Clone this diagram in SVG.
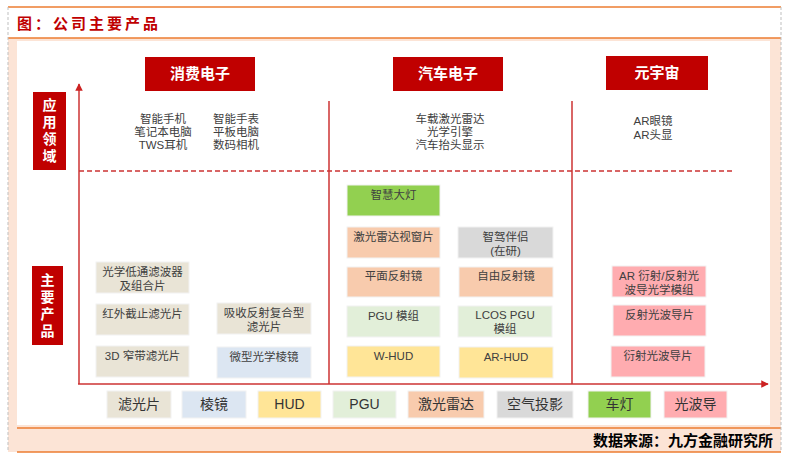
<svg xmlns="http://www.w3.org/2000/svg" width="788" height="461" viewBox="0 0 788 461">
<style>
.f{font-family:"Liberation Sans","Noto Sans CJK SC",sans-serif}
.hdr{fill:#c00000}
.hdrt{font-family:"Liberation Sans","Noto Sans CJK SC",sans-serif;font-size:15px;font-weight:bold;fill:#fff;text-anchor:middle}
.side{font-family:"Noto Sans CJK SC",sans-serif;font-size:14px;font-weight:bold;fill:#fff;text-anchor:middle;writing-mode:vertical-rl;letter-spacing:3px}
.app{font-family:"Liberation Sans","Noto Sans CJK SC",sans-serif;font-size:11.5px;fill:#404040;text-anchor:middle}
.pt{font-family:"Liberation Sans","Noto Sans CJK SC",sans-serif;font-size:11.5px;fill:#404040;text-anchor:middle}
.lg{font-family:"Liberation Sans","Noto Sans CJK SC",sans-serif;font-size:14px;fill:#333;text-anchor:middle}
.box{stroke:#f2f2f2;stroke-width:1}
.filter{fill:#e9e4d6}
.prism{fill:#dce6f2}
.hud{fill:#ffe597}
.pgu{fill:#e2efd9}
.lidar{fill:#f8cbad}
.air{fill:#d9d9d9}
.lamp{fill:#92d050}
.wg{fill:#ffacb0}
.ax{stroke:#cc3333;stroke-width:1.5;fill:none}
.orl{stroke:#ed7d31;stroke-width:1.5}
.gd{stroke:#bfbfbf;stroke-width:1;stroke-dasharray:3 2}
</style>
<defs>
<marker id="arr" viewBox="0 0 10 10" refX="9" refY="5" markerWidth="5" markerHeight="5" orient="auto">
<path d="M0,0 L10,5 L0,10 z" fill="#cc2222"/>
</marker>
</defs>
<!-- frame -->
<rect x="0" y="0" width="788" height="461" fill="#fff"/>
<rect x="8" y="38" width="773" height="414" fill="#fce4d6"/>
<rect x="17" y="41" width="753" height="384" fill="#fff"/>
<line class="orl" x1="8" y1="7" x2="781" y2="7"/>
<line class="orl" x1="8" y1="38" x2="781" y2="38"/>
<line class="orl" x1="17" y1="428" x2="781" y2="428"/>
<line class="orl" x1="17" y1="452" x2="781" y2="452"/>
<line class="gd" x1="8" y1="7" x2="8" y2="452"/>
<line class="gd" x1="781" y1="7" x2="781" y2="452"/>
<text class="f" x="17" y="29" font-size="15" font-weight="bold" fill="#c00000" letter-spacing="3">图：公司主要产品</text>
<text class="f" x="773" y="446" font-size="15" font-weight="bold" fill="#000" text-anchor="end">数据来源：九方金融研究所</text>

<!-- connectors / axes -->
<g id="connectors">
<line class="ax" x1="79" y1="384" x2="79" y2="84" marker-end="url(#arr)"/>
<line class="ax" x1="78" y1="384" x2="768" y2="384" marker-end="url(#arr)"/>
<line class="ax" x1="329" y1="101" x2="329" y2="384"/>
<line class="ax" x1="572" y1="101" x2="572" y2="384"/>
<line x1="79" y1="171" x2="734" y2="171" stroke="#cc3333" stroke-width="1.3" stroke-dasharray="5 3"/>
</g>

<!-- headers -->
<g id="h-consumer"><rect class="hdr" x="145" y="57" width="110" height="34"/><text class="hdrt" x="200" y="79">消费电子</text></g>
<g id="h-auto"><rect class="hdr" x="393" y="57" width="110" height="34"/><text class="hdrt" x="448" y="79">汽车电子</text></g>
<g id="h-meta"><rect class="hdr" x="606" y="56" width="102" height="34"/><text class="hdrt" x="657" y="78">元宇宙</text></g>

<!-- side labels -->
<g id="s-app"><rect class="hdr" x="33" y="92" width="33" height="78"/>
<text class="side" x="49.5" y="132">应用领域</text></g>
<g id="s-prod"><rect class="hdr" x="32" y="266" width="31" height="79"/>
<text class="side" x="47.5" y="307">主要产品</text></g>

<!-- application texts -->
<g id="app-consumer-1"><text class="app" x="163" y="123">智能手机</text><text class="app" x="163" y="136">笔记本电脑</text><text class="app" x="163" y="149">TWS耳机</text></g>
<g id="app-consumer-2"><text class="app" x="236" y="123">智能手表</text><text class="app" x="236" y="136">平板电脑</text><text class="app" x="236" y="149">数码相机</text></g>
<g id="app-auto"><text class="app" x="450" y="123">车载激光雷达</text><text class="app" x="450" y="136">光学引擎</text><text class="app" x="450" y="149">汽车抬头显示</text></g>
<g id="app-meta"><text class="app" x="653" y="125">AR眼镜</text><text class="app" x="653" y="139">AR头显</text></g>

<!-- consumer products -->
<g id="p-olpf"><rect class="box filter" x="96" y="262" width="93" height="31"/><text class="pt" x="142.5" y="276">光学低通滤波器</text><text class="pt" x="142.5" y="290">及组合片</text></g>
<g id="p-ircut"><rect class="box filter" x="96" y="304" width="93" height="31"/><text class="pt" x="142.5" y="318">红外截止滤光片</text></g>
<g id="p-3d"><rect class="box filter" x="96" y="346" width="93" height="31"/><text class="pt" x="142.5" y="360">3D 窄带滤光片</text></g>
<g id="p-absref"><rect class="box filter" x="217" y="303" width="94" height="31"/><text class="pt" x="264" y="317">吸收反射复合型</text><text class="pt" x="264" y="331">滤光片</text></g>
<g id="p-prism"><rect class="box prism" x="217" y="347" width="94" height="31"/><text class="pt" x="264" y="361">微型光学棱镜</text></g>

<!-- auto products -->
<g id="p-lamp"><rect class="box lamp" x="347" y="185" width="93" height="31"/><text class="pt" x="393.5" y="199">智慧大灯</text></g>
<g id="p-lidarwin"><rect class="box lidar" x="347" y="227" width="93" height="31"/><text class="pt" x="393.5" y="241">激光雷达视窗片</text></g>
<g id="p-flatmir"><rect class="box lidar" x="347" y="267" width="93" height="30"/><text class="pt" x="393.5" y="280">平面反射镜</text></g>
<g id="p-pgu"><rect class="box pgu" x="347" y="306" width="93" height="31"/><text class="pt" x="393.5" y="320">PGU 模组</text></g>
<g id="p-whud"><rect class="box hud" x="347" y="346" width="93" height="31"/><text class="pt" x="393.5" y="360">W-HUD</text></g>
<g id="p-copilot"><rect class="box air" x="458" y="227" width="95" height="31"/><text class="pt" x="505.5" y="241">智驾伴侣</text><text class="pt" x="505.5" y="255">(在研)</text></g>
<g id="p-freemir"><rect class="box lidar" x="459" y="267" width="94" height="30"/><text class="pt" x="506" y="280">自由反射镜</text></g>
<g id="p-lcos"><rect class="box pgu" x="458" y="306" width="94" height="31"/><text class="pt" x="505" y="319">LCOS PGU</text><text class="pt" x="505" y="333">模组</text></g>
<g id="p-arhud"><rect class="box hud" x="459" y="347" width="94" height="31"/><text class="pt" x="506" y="361">AR-HUD</text></g>

<!-- metaverse products -->
<g id="p-armod"><rect class="box wg" x="612" y="266" width="94" height="31"/><text class="pt" x="659" y="280">AR 衍射/反射光</text><text class="pt" x="659" y="294">波导光学模组</text></g>
<g id="p-refwg"><rect class="box wg" x="613" y="305" width="93" height="31"/><text class="pt" x="659.5" y="319">反射光波导片</text></g>
<g id="p-difwg"><rect class="box wg" x="611" y="346" width="94" height="31"/><text class="pt" x="658" y="360">衍射光波导片</text></g>

<!-- legend -->
<g id="lg-filter"><rect class="box filter" x="107" y="391" width="64" height="27"/><text class="lg" x="139" y="409">滤光片</text></g>
<g id="lg-prism"><rect class="box prism" x="182" y="391" width="64" height="27"/><text class="lg" x="214" y="409">棱镜</text></g>
<g id="lg-hud"><rect class="box hud" x="258" y="391" width="63" height="27"/><text class="lg" x="289.5" y="409">HUD</text></g>
<g id="lg-pgu"><rect class="box pgu" x="333" y="391" width="63" height="27"/><text class="lg" x="364.5" y="409">PGU</text></g>
<g id="lg-lidar"><rect class="box lidar" x="408" y="391" width="76" height="27"/><text class="lg" x="446" y="409">激光雷达</text></g>
<g id="lg-air"><rect class="box air" x="497" y="391" width="76" height="27"/><text class="lg" x="535" y="409">空气投影</text></g>
<g id="lg-lamp"><rect class="box lamp" x="588" y="391" width="63" height="27"/><text class="lg" x="619.5" y="409">车灯</text></g>
<g id="lg-wg"><rect class="box wg" x="664" y="391" width="63" height="27"/><text class="lg" x="695.5" y="409">光波导</text></g>
</svg>
